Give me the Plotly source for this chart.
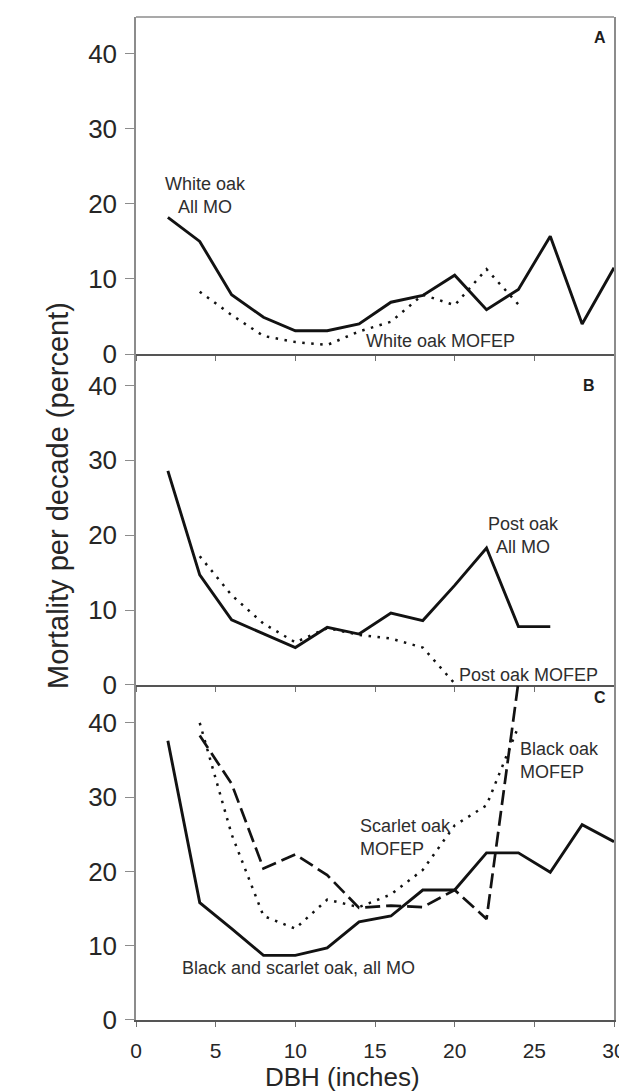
import plotly.graph_objects as go

# ---------------- data ----------------
dbh_all = [2, 4, 6, 8, 10, 12, 14, 16, 18, 20, 22, 24, 26, 28, 30]

# Panel A
white_all_x = dbh_all
white_all_y = [18.2, 15.0, 7.9, 4.9, 3.1, 3.1, 4.0, 6.9, 7.8, 10.5, 5.9, 8.6, 15.7, 4.0, 11.5]
white_mofep_x = [4, 6, 8, 10, 12, 14, 16, 18, 20, 22, 24]
white_mofep_y = [8.3, 5.2, 2.4, 1.6, 1.2, 3.0, 4.3, 7.9, 6.5, 11.3, 6.6]

# Panel B
post_all_x = [2, 4, 6, 8, 10, 12, 14, 16, 18, 20, 22, 24, 26]
post_all_y = [28.6, 14.7, 8.7, 6.9, 5.0, 7.7, 6.8, 9.6, 8.6, 13.3, 18.3, 7.8, 7.8]
post_mofep_x = [4, 6, 8, 10, 12, 14, 16, 18, 20]
post_mofep_y = [17.2, 12.0, 8.2, 5.7, 7.6, 6.7, 6.2, 5.0, 0.2]

# Panel C
bs_all_x = dbh_all
bs_all_y = [37.6, 15.8, 12.3, 8.7, 8.7, 9.7, 13.2, 14.0, 17.5, 17.5, 22.5, 22.5, 19.9, 26.3, 24.0]
black_mofep_x = [4, 6, 8, 10, 12, 14, 16, 18, 20, 22, 24]
black_mofep_y = [38.3, 31.8, 20.4, 22.3, 19.5, 15.1, 15.4, 15.2, 17.5, 13.6, 45.5]
scarlet_mofep_x = [4, 6, 8, 10, 12, 14, 16, 18, 20, 22, 24]
scarlet_mofep_y = [40.0, 25.0, 14.0, 12.3, 16.2, 15.2, 16.9, 20.2, 26.2, 28.9, 39.5]

x_ticks = [0, 5, 10, 15, 20, 25, 30]
y_ticks = [0, 10, 20, 30, 40]

# ---------------- styles ----------------
LINE = "#121212"
TXT = "#2e2e2e"
FONT = "Liberation Sans, Arial, sans-serif"
solid = dict(color=LINE, width=2.9)
dotted = dict(color=LINE, width=2.5, dash="2.5px,6.5px")
dashed = dict(color=LINE, width=2.7, dash="15px,6px")

fig = go.Figure()

def add(x, y, line, xa, ya):
    fig.add_trace(go.Scatter(x=x, y=y, mode="lines", line=line,
                             xaxis=xa, yaxis=ya, hoverinfo="skip"))

add(white_all_x, white_all_y, solid, "x", "y")
add(white_mofep_x, white_mofep_y, dotted, "x", "y")
add(post_all_x, post_all_y, solid, "x2", "y2")
add(post_mofep_x, post_mofep_y, dotted, "x2", "y2")
add(bs_all_x, bs_all_y, solid, "x3", "y3")
add(scarlet_mofep_x, scarlet_mofep_y, dotted, "x3", "y3")
add(black_mofep_x, black_mofep_y, dashed, "x3", "y3")

xcommon = dict(range=[0, 30], tickvals=x_ticks, ticks="outside", ticklen=5,
               tickcolor="#707070", showline=True, linecolor="#555555", linewidth=1.5,
               showgrid=False, zeroline=False, fixedrange=True)
ycommon = dict(tickvals=y_ticks, ticks="outside", ticklen=9, tickcolor="#8c8c8c",
               showline=True, linecolor="#8c8c8c", linewidth=1.5, mirror=True,
               showgrid=False, zeroline=False,
               tickfont=dict(family=FONT, size=26, color="#262626"),
               ticklabelstandoff=3)

fig.update_layout(
    width=627, height=1091,
    margin=dict(l=128, r=18, t=9, b=79),
    plot_bgcolor="white", paper_bgcolor="white",
    showlegend=False,
    font=dict(family=FONT, color=TXT),
    xaxis=dict(**xcommon, anchor="y", showticklabels=False),
    xaxis2=dict(**xcommon, anchor="y2", showticklabels=False),
    xaxis3=dict(**xcommon, anchor="y3", showticklabels=True,
                tickfont=dict(family=FONT, size=21, color="#262626"),
                ticklabelstandoff=6),
    yaxis=dict(**ycommon, domain=[0.664, 1.0], range=[0, 44.9], anchor="x"),
    yaxis2=dict(**ycommon, domain=[0.334, 0.664], range=[0, 44.2], anchor="x2"),
    yaxis3=dict(**ycommon, domain=[0.0, 0.334], range=[0, 45.1], anchor="x3"),
    shapes=[dict(type="line", xref="paper", yref="paper", x0=0, x1=1, y0=1, y1=1,
                 line=dict(color="#8c8c8c", width=1.5))],
)

ann_font = dict(family=FONT, size=18, color=TXT)
anns = [
    dict(x=4.36, y=21.15, xref="x", yref="y", text="White oak<br>All MO", align="center"),
    dict(x=19.1, y=1.8, xref="x", yref="y", text="White oak MOFEP"),
    dict(x=24.3, y=19.9, xref="x2", yref="y2", text="Post oak<br>All MO", align="center"),
    dict(x=24.65, y=1.35, xref="x2", yref="y2", text="Post oak MOFEP"),
    dict(x=23.95, y=34.9, xref="x3", yref="y3", text="Black oak<br>MOFEP", align="left", xanchor="left"),
    dict(x=13.95, y=24.6, xref="x3", yref="y3", text="Scarlet oak<br>MOFEP", align="left", xanchor="left"),
    dict(x=10.17, y=7.0, xref="x3", yref="y3", text="Black and scarlet oak, all MO"),
]
for a in anns:
    a.setdefault("xanchor", "center")
    fig.add_annotation(**a, yanchor="middle", showarrow=False, font=ann_font)

# panel letters
for lbl, xa, ya, xx, yy in [("A", "x", "y", 29.1, 42.2), ("B", "x2", "y2", 28.4, 40.0), ("C", "x3", "y3", 29.1, 43.4)]:
    fig.add_annotation(x=xx, y=yy, xref=xa, yref=ya, text="<b>%s</b>" % lbl, showarrow=False,
                       font=dict(family=FONT, size=16, color="#1e1e1e"))

# axis titles
fig.add_annotation(x=-0.201, y=0.5234, xref="paper", yref="paper",
                   text="Mortality per decade (percent)", textangle=-90, showarrow=False,
                   font=dict(family=FONT, size=29, color="#262626"))
fig.add_annotation(x=12.95, y=-0.0568, xref="x3", yref="paper",
                   text="DBH (inches)", showarrow=False, yanchor="middle",
                   font=dict(family=FONT, size=26, color="#262626"))

fig.write_html("out.html")
